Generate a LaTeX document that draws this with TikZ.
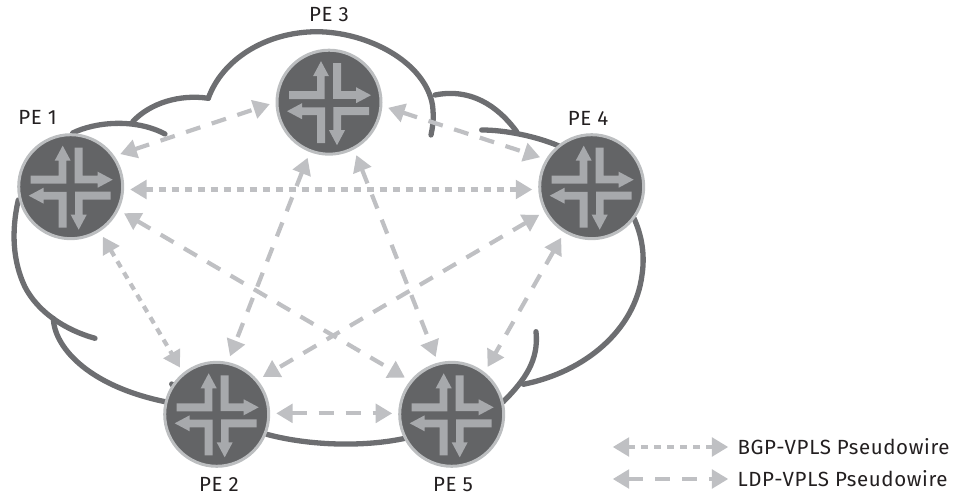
\documentclass[tikz,border=0pt]{standalone}
\usepackage{fontspec}
\setmainfont[LetterSpace=3]{Fira Sans}
\usetikzlibrary{backgrounds,arrows.meta}
\definecolor{routerbody}{HTML}{636466}
\definecolor{routerrim}{HTML}{BCBEC0}
\definecolor{routerarrow}{HTML}{A7A9AC}
\definecolor{cloudline}{HTML}{6D6E71}
\definecolor{wireline}{HTML}{BFC0C3}
\definecolor{labeltext}{HTML}{231F20}
\tikzset{
  router/.style = {
    circle, fill=routerbody, draw=routerrim, line width=3pt,
    minimum size=104pt, inner sep=0pt
  },
  cloudpart/.style = {draw=cloudline, line width=5.3pt, line cap=round},
  wire/.style = {
    draw=wireline, line width=4.2pt,
    {Triangle[length=16.5pt,width=18.5pt]}-{Triangle[length=16.5pt,width=18.5pt]}
  },
  bgp/.style = {wire, dash pattern=on 7pt off 6pt},
  ldp/.style = {wire, dash pattern=on 15pt off 12pt},
  gapped/.style = {shorten <=6pt, shorten >=6pt},
  pelabel/.style = {text=labeltext, font=\fontsize{20.5}{22}\selectfont, inner sep=0pt},
  legendlabel/.style = {pelabel, anchor=west}
}

\begin{document}
\begin{tikzpicture}[x=1pt,y=-1pt]
  \useasboundingbox (0,0) rectangle (963,497);

  \node[router] (pe1) at (70.7,186.7) {};
  \node[router] (pe2) at (216.7,414.3) {};
  \node[router] (pe3) at (329,102.2) {};
  \node[router] (pe4) at (591.7,186.7) {};
  \node[router] (pe5) at (451.7,414.3) {};

  \foreach \r in {pe1,pe2,pe3,pe4,pe5}
    \foreach \a in {0,90,180,270}
      \fill[routerarrow, shift={(\r)}, yshift=-1pt, rotate=\a]
        (-40,-12) -- (-12,-12) -- (-12,-27) -- (-16,-27) -- (-8,-42) -- (0,-27)
        -- (-4.3,-27) -- (-4.3,-4) -- (-40,-4) -- cycle;

  \node[pelabel] (pe1label) at (37.5,117) {PE 1};
  \node[pelabel] (pe2label) at (219,484.5) {PE 2};
  \node[pelabel] (pe3label) at (329,15) {PE 3};
  \node[pelabel] (pe4label) at (588,118) {PE 4};
  \node[pelabel] (pe5label) at (453,484.5) {PE 5};

  \begin{scope}[on background layer]
    \draw[cloudpart] (72.7,133) .. controls (95,122) and (135,118) .. (165,134);
    \draw[cloudpart] (132.7,121.7) .. controls (150,103) and (180,94) .. (208.3,98.3);
    \draw[cloudpart] (208.3,98.3) .. controls (222,60) and (265,32) .. (316.7,31.7)
      .. controls (368,32) and (425,62) .. (432.5,105)
      .. controls (434,118) and (433,125) .. (431,135);
    \draw[cloudpart] (435,95) .. controls (470,88) and (497,105) .. (516.7,131.7);
    \draw[cloudpart] (481.7,130) .. controls (505,130) and (535,136) .. (558.3,145.7);
    \draw[cloudpart] (634,218.3) .. controls (642,236) and (645,255) .. (642,275)
      .. controls (635,330) and (585,372) .. (523.3,384.3);
    \draw[cloudpart] (536,331.7) .. controls (539,360) and (525,380) .. (503.3,401.7);
    \draw[cloudpart] (266.7,434.3) .. controls (310,446) and (365,447) .. (405,438.3);
    \draw[cloudpart] (18.3,200) .. controls (11,232) and (13,262) .. (25,287)
      .. controls (38,312) and (65,330) .. (95,338.3);
    \draw[cloudpart] (53.3,318.3) .. controls (54,345) and (85,385) .. (165,401.7);
    \draw[cloudpart] (171.7,384) -- (178,390);
  \end{scope}

  \draw[ldp,gapped] (pe1.35.5) -- (pe3.180.8);
  \draw[ldp,gapped] (pe3.-4.6) -- (pe4.149.8);
  \draw[bgp,gapped] (pe1.-3.1) -- (pe4.183);
  \draw[ldp,gapped] (pe1.-26.3) -- (pe5.141.9);
  \draw[bgp,gapped] (pe1.-57) -- (pe2.129.7);
  \draw[ldp,gapped] (pe3.249) -- (pe2.78.4);
  \draw[ldp,gapped] (pe3.-62.4) -- (pe5.105);
  \draw[ldp,gapped] (pe4.208.3) -- (pe2.40.9);
  \draw[ldp,gapped] (pe4.239.7) -- (pe5.52.9);
  \draw[ldp,gapped] (pe2.1) -- (pe5.179);

  \node[legendlabel] (bgptext) at (737.3,447) {BGP-VPLS Pseudowire};
  \node[legendlabel] (ldptext) at (737.3,479) {LDP-VPLS Pseudowire};
  \coordinate (bgpstart) at (612.7,447);
  \coordinate (ldpstart) at (612.7,479);
  \draw[bgp,shorten >=9pt] (bgpstart) -- (bgptext);
  \draw[ldp,shorten >=9pt] (ldpstart) -- (ldptext);
\end{tikzpicture}
\end{document}
